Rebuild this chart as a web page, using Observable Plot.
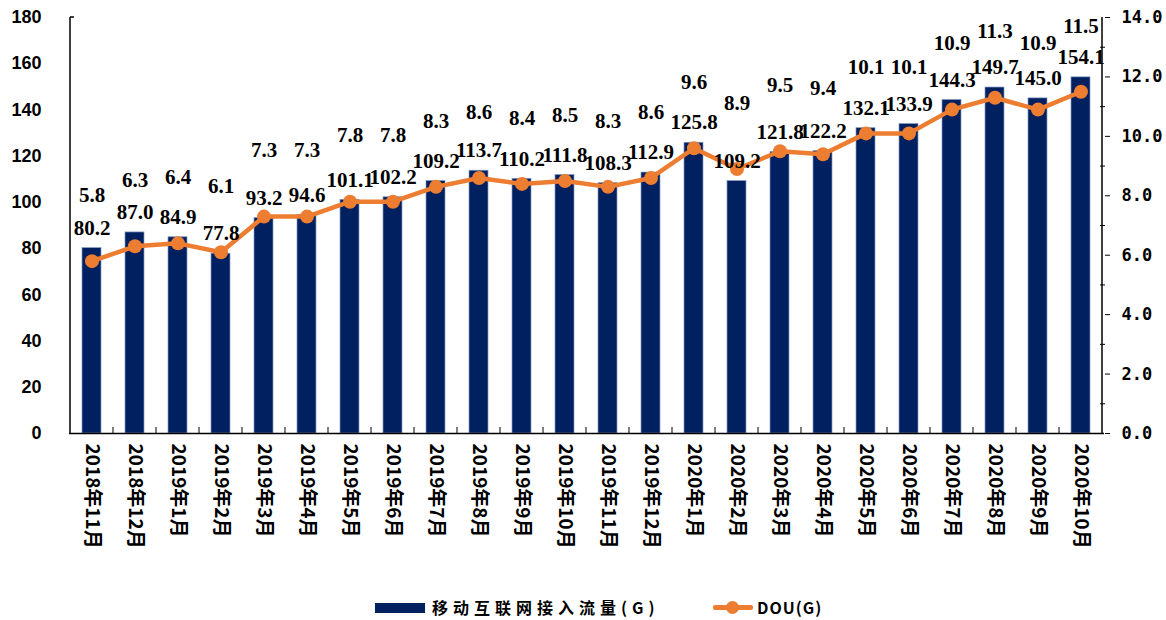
<!DOCTYPE html>
<html>
<head>
<meta charset="utf-8">
<script src="https://cdn.jsdelivr.net/npm/d3@7"></script>
<script src="https://cdn.jsdelivr.net/npm/@observablehq/plot@0.6"></script>
<style>
  html, body { margin: 0; padding: 0; background: #fff; }
  #wrap { width: 1166px; position: relative; }
  #legend { position: relative; width: 1166px; height: 30px; font-family: "Noto Sans CJK SC", sans-serif; font-weight: bold; font-size: 16px; color: #000; }
  .sw-bar { position: absolute; left: 375px; top: 13px; width: 50px; height: 10px; background: #002060; }
  .lab1 { position: absolute; left: 432px; top: 5px; letter-spacing: 5px; white-space: nowrap; }
  .sw-line { position: absolute; left: 713px; top: 15px; width: 40px; height: 5px; background: #ED7D31; border-radius: 2px; }
  .sw-dot { position: absolute; left: 726px; top: 11px; width: 13px; height: 13px; border-radius: 50%; background: #ED7D31; }
  .lab2 { position: absolute; left: 757px; top: 5px; letter-spacing: 1px; white-space: nowrap; }
</style>
</head>
<body>
<div id="wrap"></div>
<div id="legend">
  <div class="sw-bar"></div><div class="lab1">移动互联网接入流量(G)</div>
  <div class="sw-line"></div><div class="sw-dot"></div><div class="lab2">DOU(G)</div>
</div>
<script>
const months = ["2018年11月","2018年12月","2019年1月","2019年2月","2019年3月","2019年4月","2019年5月","2019年6月","2019年7月","2019年8月","2019年9月","2019年10月","2019年11月","2019年12月","2020年1月","2020年2月","2020年3月","2020年4月","2020年5月","2020年6月","2020年7月","2020年8月","2020年9月","2020年10月"];
const traffic = [80.2,87.0,84.9,77.8,93.2,94.6,101.1,102.2,109.2,113.7,110.2,111.8,108.3,112.9,125.8,109.2,121.8,122.2,132.1,133.9,144.3,149.7,145.0,154.1];
const dou = [5.8,6.3,6.4,6.1,7.3,7.3,7.8,7.8,8.3,8.6,8.4,8.5,8.3,8.6,9.6,8.9,9.5,9.4,10.1,10.1,10.9,11.3,10.9,11.5];
const leftTicks = [0,20,40,60,80,100,120,140,160,180];
const rightTicks = [0,2,4,6,8,10,12,14];
const rightMinor = [1,3,5,7,9,11,13];

const leftMax = 180, rightMax = 14;
const k = leftMax / rightMax;
const data = months.map((m, i) => ({month: m, traffic: traffic[i], dou: dou[i], douY: dou[i] * k}));

const W = 1166, H = 590, ML = 69, MR = 62, MT = 17, MB = 157;

const navy = "#002060", orange = "#ED7D31";
const sans = "Liberation Sans, Arial, sans-serif";
const serif = "Liberation Serif, Times New Roman, serif";
const blank = () => "";

const chart = Plot.plot({
  width: W, height: H,
  marginLeft: ML, marginRight: MR, marginTop: MT, marginBottom: MB,
  style: {background: "#fff", color: "#000"},
  x: {domain: months, paddingInner: 0.55, paddingOuter: 0.275, axis: null},
  y: {domain: [0, leftMax], axis: null},
  marks: [
    Plot.barY(data, {x: "month", y: "traffic", fill: navy, stroke: "#8497c0", strokeWidth: 0.7}),
    Plot.ruleY([0], {stroke: "#000", strokeWidth: 1.5}),
    // left axis
    Plot.axisY({anchor: "left", ticks: leftTicks, tickSize: 0, tickPadding: 28,
      fontSize: 18, fontWeight: "bold", fontFamily: sans, tickFormat: d => String(d)}),
    // right axis
    Plot.axisY({anchor: "right", ticks: rightTicks.map(v => v * k), tickSize: 5, tickFormat: blank}),
    Plot.axisY({anchor: "right", ticks: rightMinor.map(v => v * k), tickSize: -5, tickFormat: blank}),
    Plot.axisY({anchor: "right", ticks: rightTicks.map(v => v * k), tickSize: 0, tickPadding: 17,
      fontSize: 17, fontWeight: "bold", fontFamily: "DejaVu Sans Mono, monospace",
      tickFormat: d => (d / k).toFixed(1)}),
    // x axis labels
    Plot.axisX({anchor: "bottom", label: null, tickSize: 0, tickPadding: 10, tickRotate: 90,
      fontSize: 19, fontWeight: "bold", fontFamily: "Noto Sans CJK SC, sans-serif"}),
    // DOU line
    Plot.line(data, {x: "month", y: "douY", stroke: orange, strokeWidth: 4.5}),
    Plot.dot(data, {x: "month", y: "douY", fill: orange, r: 7}),
    // labels
    Plot.text(data, {x: "month", y: "traffic", text: d => d.traffic.toFixed(1), dy: -20,
      fontSize: 21, fontWeight: "bold", fontFamily: serif, fill: "#000"}),
    Plot.text(data, {x: "month", y: "douY", text: d => d.dou.toFixed(1), dy: -66,
      fontSize: 21, fontWeight: "bold", fontFamily: serif, fill: "#000"})
  ]
});

// axis lines and category boundary ticks, placed with the chart's own scales
const sx = chart.scale("x"), sy = chart.scale("y");
const step = sx.step, bw = sx.bandwidth;
const y0 = sy.apply(0), yTop = sy.apply(leftMax);
const svg = d3.select(chart.tagName.toLowerCase() === "svg" ? chart : chart.querySelector("svg"));
const g = svg.append("g").attr("stroke", "#000").attr("fill", "none");
const leftX = sx.apply(months[0]) + bw / 2 - step / 2;
const rightX = sx.apply(months[months.length - 1]) + bw / 2 + step / 2;
g.append("line").attr("x1", leftX).attr("x2", leftX).attr("y1", yTop).attr("y2", y0 + 0.75).attr("stroke-width", 1.5);
g.append("line").attr("x1", rightX).attr("x2", rightX).attr("y1", yTop).attr("y2", y0 + 0.75).attr("stroke-width", 1.5);
g.append("line").attr("x1", leftX).attr("x2", leftX + 4).attr("y1", yTop).attr("y2", yTop).attr("stroke-width", 1.5);
months.slice(1).forEach(m => {
  const bx = sx.apply(m) + bw / 2 - step / 2;
  g.append("line").attr("x1", bx).attr("x2", bx).attr("y1", y0).attr("y2", y0 - 6).attr("stroke-width", 1);
});
document.getElementById("wrap").appendChild(chart);
</script>
</body>
</html>
